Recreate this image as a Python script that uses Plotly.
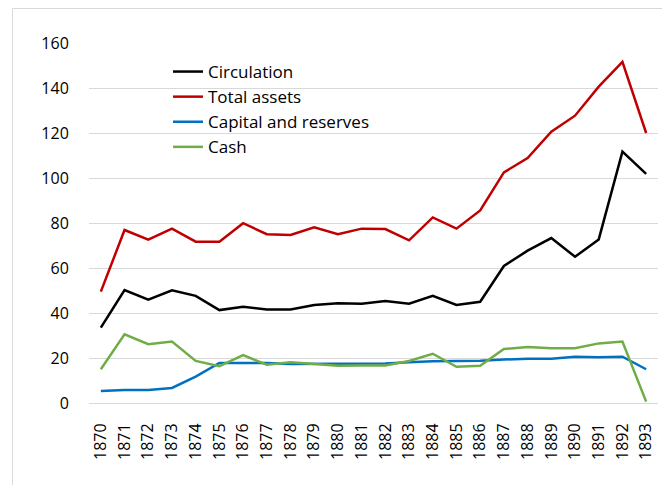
import plotly.graph_objects as go

# Years on the category axis
years = [str(y) for y in range(1870, 1894)]

# Series values
circulation = [33.5, 50.2, 45.9, 50.1, 47.6, 41.3, 42.8, 41.6, 41.6, 43.6, 44.3, 44.1,
               45.3, 44.1, 47.6, 43.6, 45.0, 60.9, 67.7, 73.3, 65.0, 72.7, 111.7, 101.8]
total_assets = [49.5, 76.9, 72.6, 77.5, 71.7, 71.7, 79.9, 75.0, 74.7, 78.1, 75.0, 77.5,
                77.3, 72.3, 82.5, 77.5, 85.6, 102.5, 108.9, 120.6, 127.7, 140.6, 151.6, 120.0]
capital_reserves = [5.3, 5.8, 5.8, 6.7, 11.7, 17.8, 17.8, 17.8, 17.3, 17.3, 17.3, 17.6,
                    17.6, 18.1, 18.6, 18.7, 18.8, 19.3, 19.7, 19.7, 20.6, 20.3, 20.6, 15.0]
cash = [15.0, 30.5, 26.1, 27.3, 18.7, 16.4, 21.3, 17.0, 18.1, 17.3, 16.6, 16.7,
        16.7, 18.7, 21.9, 16.1, 16.6, 24.0, 24.9, 24.3, 24.3, 26.5, 27.3, 0.6]

y_ticks = [0, 20, 40, 60, 80, 100, 120, 140, 160]

font_family = "Open Sans, Liberation Sans, sans-serif"

fig = go.Figure()
fig.add_trace(go.Scatter(x=years, y=circulation, mode='lines', name='Circulation',
                         line=dict(color='#000000', width=2.5)))
fig.add_trace(go.Scatter(x=years, y=total_assets, mode='lines', name='Total assets',
                         line=dict(color='#C00000', width=2.5)))
fig.add_trace(go.Scatter(x=years, y=capital_reserves, mode='lines', name='Capital and reserves',
                         line=dict(color='#0070C0', width=2.5)))
fig.add_trace(go.Scatter(x=years, y=cash, mode='lines', name='Cash',
                         line=dict(color='#70AD47', width=2.5)))

# page body adds an 8px offset, so the figure is a bit smaller than the window
W, H = 662, 477
L, T, R, B = 81, 35, 12, 82
pw, ph = W - L - R, H - T - B

# light chart border (only its top/left edges fall inside the picture)
fig.add_shape(type='rect', xref='paper', yref='paper',
              x0=(4.5 - L) / pw, x1=1.2, y0=-0.5, y1=1 + (T - 0.5) / ph,
              line=dict(color='#D9D9D9', width=1), fillcolor='rgba(0,0,0,0)', layer='below')

fig.update_layout(
    width=W, height=H,
    margin=dict(l=L, r=R, t=T, b=B),
    paper_bgcolor='white', plot_bgcolor='white',
    font=dict(family=font_family, size=16, color='#000000'),
    showlegend=True,
    legend=dict(x=(160 - L) / pw, y=1 - (46 - T) / ph, xanchor='left', yanchor='top',
                bgcolor='rgba(0,0,0,0)', font=dict(size=17), tracegroupgap=0,
                itemwidth=30),
)
fig.update_xaxes(type='category', range=[-0.5, 23.5], tickangle=-90, showgrid=False,
                 showline=False, ticks='outside', ticklen=13, tickcolor='rgba(0,0,0,0)',
                 tickfont=dict(size=16), automargin=False)
fig.update_yaxes(range=[0, 160], tickvals=y_ticks, showgrid=True, gridcolor='#D9D9D9',
                 gridwidth=1, zeroline=True, zerolinecolor='#D9D9D9', zerolinewidth=1,
                 showline=False, ticks='outside', ticklen=16, tickcolor='rgba(0,0,0,0)',
                 tickfont=dict(size=16), automargin=False)

fig.write_html("out.html")
